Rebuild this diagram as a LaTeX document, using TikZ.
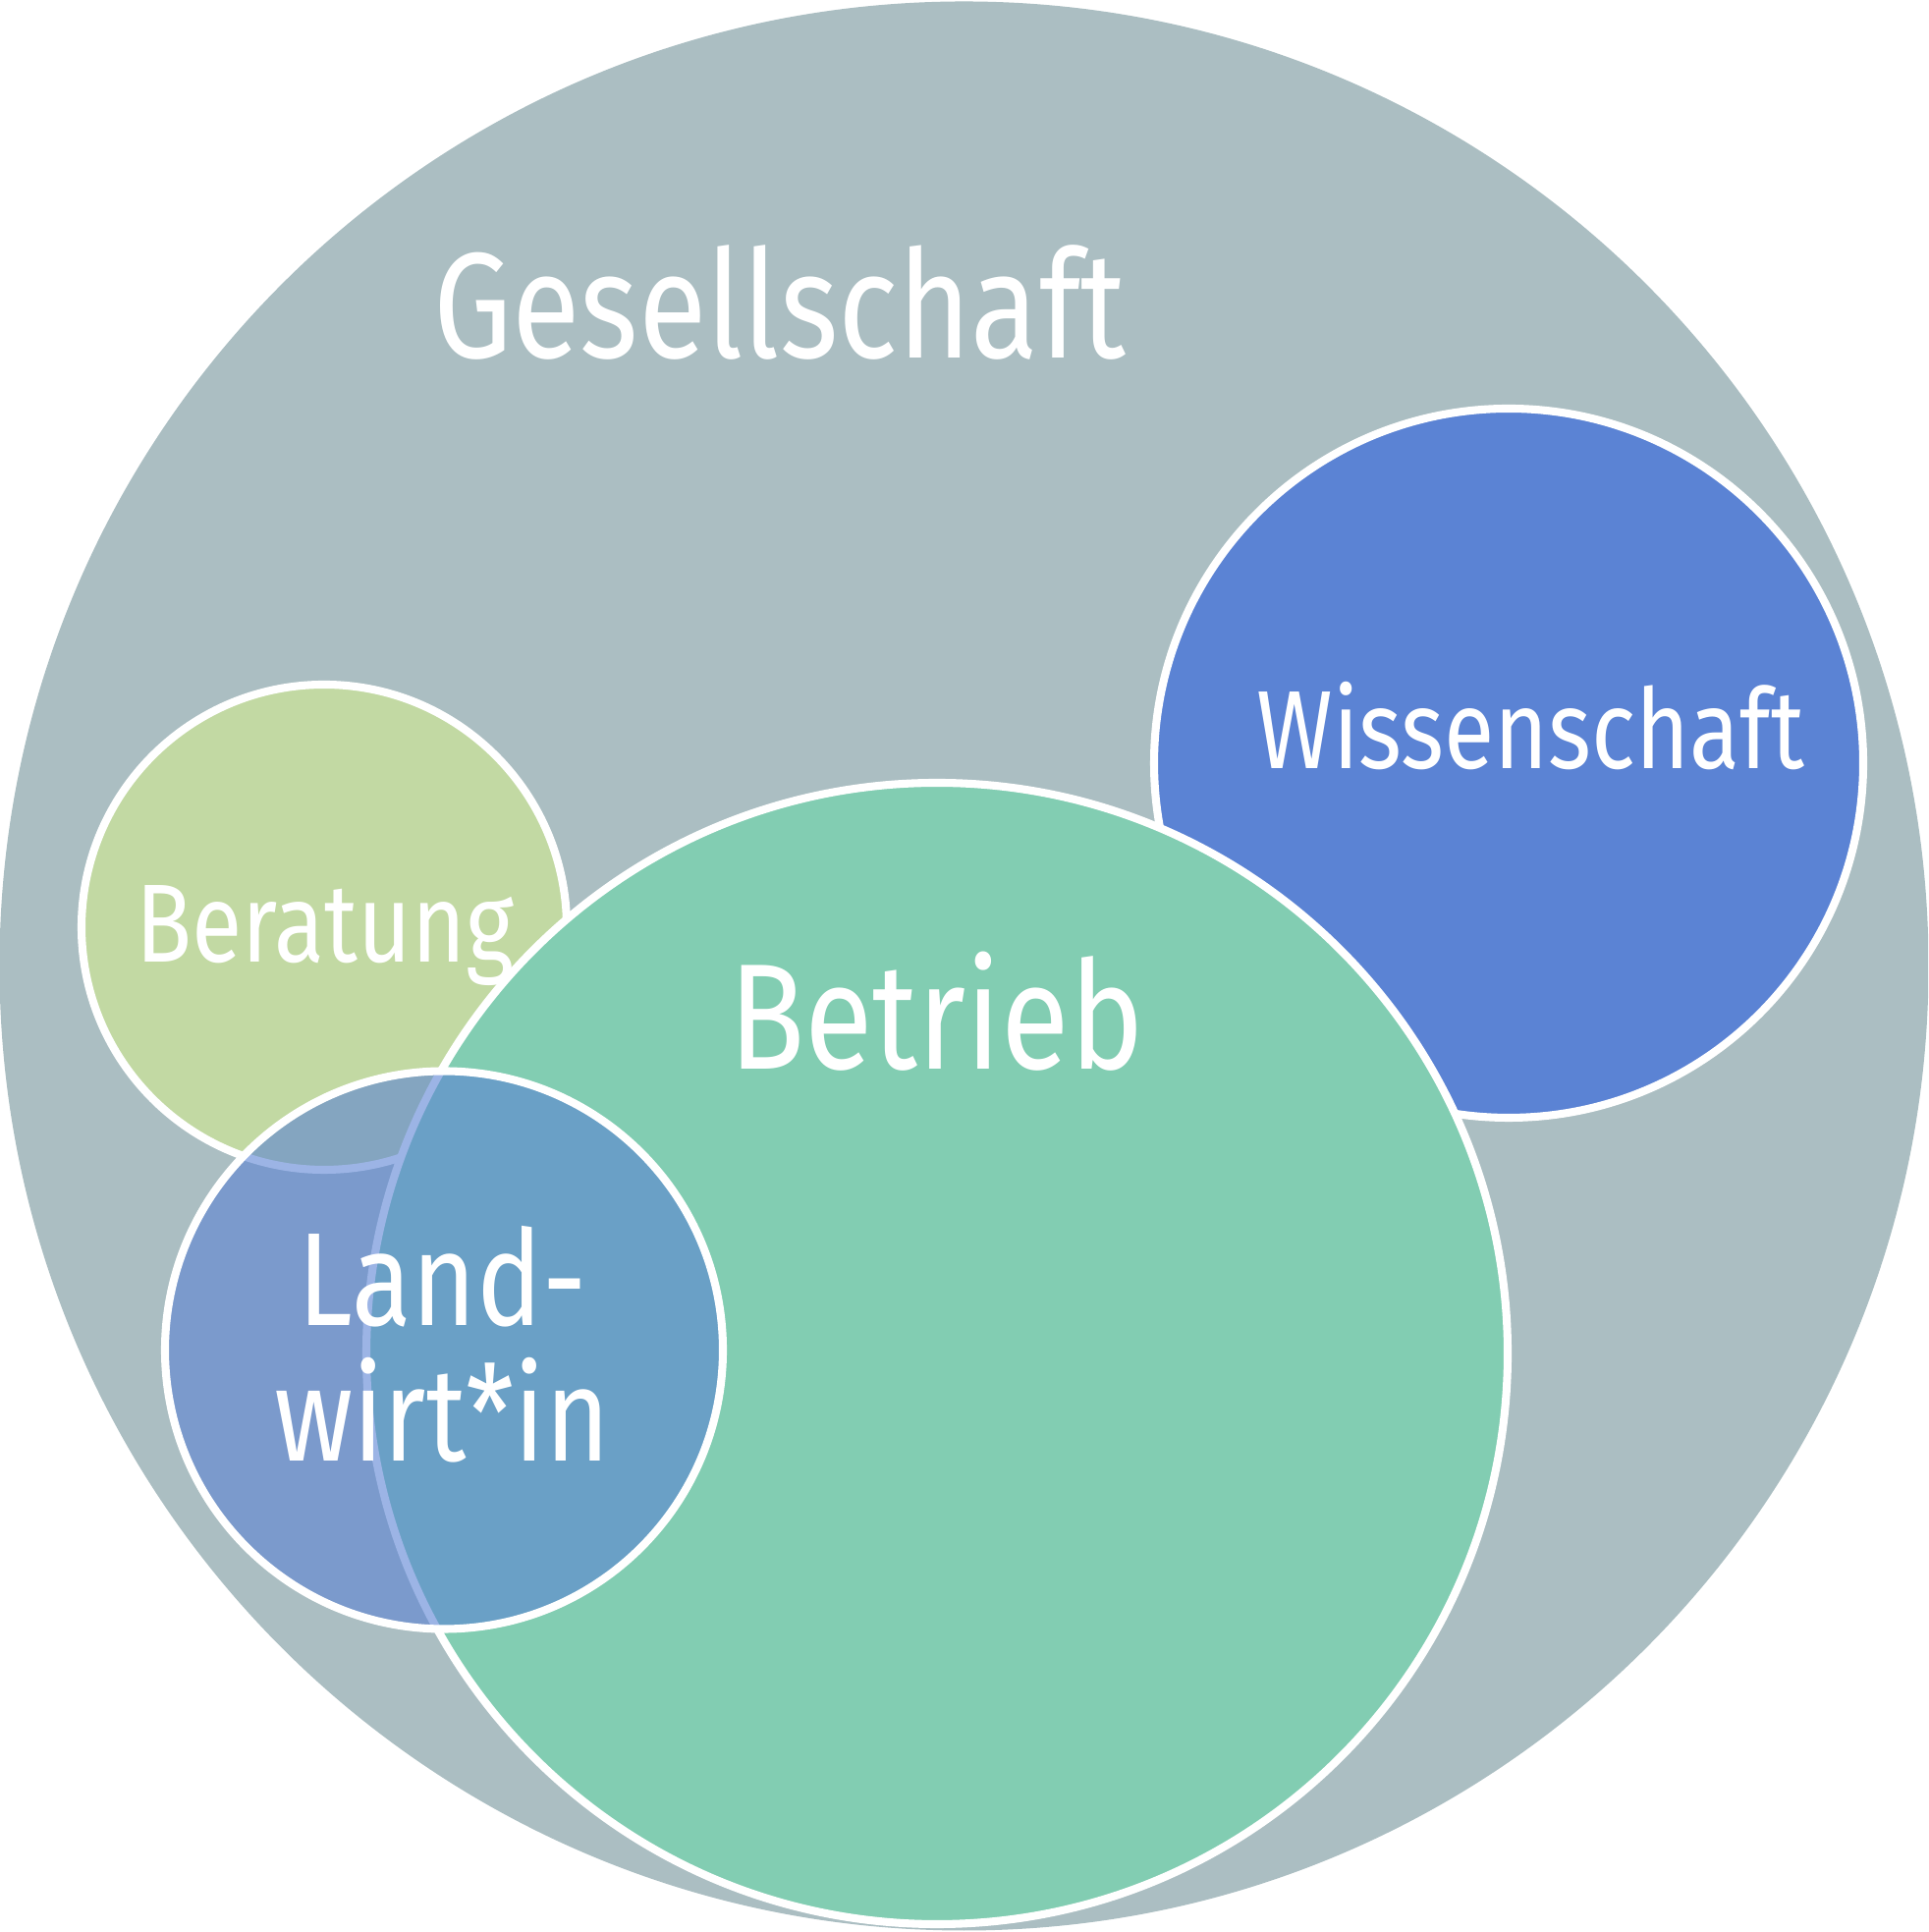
\documentclass[tikz,border=0pt]{standalone}
\usepackage{fontspec}
\setmainfont[FakeStretch=0.83,StylisticSet=1]{Fira Sans}
\usepackage{tikz}
\usetikzlibrary{positioning}
\usepackage{xcolor}
\definecolor{gesgray}{RGB}{171,190,194}
\definecolor{wissblue}{RGB}{91,131,212}
\definecolor{betrgreen}{RGB}{130,205,178}
\definecolor{beratgreen}{RGB}{194,217,163}
\newcommand{\bigfont}{\fontsize{43.6pt}{50pt}\selectfont}
\newcommand{\midfont}{\fontsize{32.2pt}{38pt}\selectfont}
\newcommand{\landfont}{\fontsize{38.4pt}{44pt}\selectfont}

\begin{document}
\begin{tikzpicture}[
    ring/.style={draw=white, line width=2.3pt},
    lbl/.style={text=white, anchor=base, inner sep=0pt}
  ]
  \useasboundingbox (0,0) rectangle (19.63,19.67);
  \clip (0,0) rectangle (19.63,19.67);
  % spheres
  \fill[gesgray] (9.815,9.835) circle (9.82);
  \filldraw[ring, fill=wissblue] (15.36,11.90) circle (3.61);
  \filldraw[ring, fill=beratgreen] (3.30,10.23) circle (2.47);
  \filldraw[ring, fill=betrgreen] (9.54,5.89) circle (5.81);
  \fill[wissblue, fill opacity=0.6] (4.52,5.925) circle (2.84);
  \draw[ring] (4.52,5.925) circle (2.84);
  % labels
  \node[lbl] (ges) at (7.94,16.02) {\bigfont Gesellschaft};
  \node[lbl] (wiss) at (15.585,11.84) {\midfont Wissenschaft};
  \node[lbl] (berat) at (3.305,9.87) {\midfont Beratung};
  \node[lbl] (betr) at (9.535,8.785) {\bigfont Betrieb};
  \node[lbl] (land) at (4.505,6.17) {\landfont Land-};
  \node[lbl] (wirt) at (4.50,4.79) {\landfont wirt*in};
\end{tikzpicture}
\end{document}
